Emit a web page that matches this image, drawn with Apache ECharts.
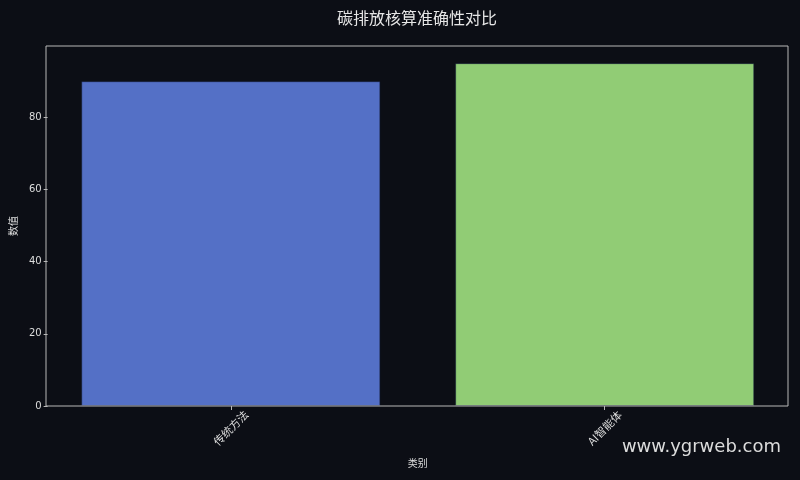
<!DOCTYPE html>
<html><head><meta charset="utf-8">
<script src="https://cdn.jsdelivr.net/npm/echarts@6/dist/echarts.min.js"></script>
<style>html,body{margin:0;padding:0;background:#0c0e15;}#c{width:800px;height:480px;}</style>
</head><body><div id="c"></div>
<script>
const categories = ['传统方法', 'AI智能体'];
const values = [90, 95];
const barColors = ['#5470c6', '#91cc75'];
const yTicks = [0, 20, 40, 60, 80];
const yMax = 99.75;

const cjk = '"Noto Sans CJK SC",sans-serif';
const font = '"DejaVu Sans","Noto Sans CJK SC",sans-serif';
const axisCol = '#b8b8b8';
const txtCol = '#dddddd';
const chart = echarts.init(document.getElementById('c'));
chart.setOption({
  backgroundColor: '#0c0e15',
  animation: false,
  grid: [
    { left: 42.25, right: 8.35, top: 46, bottom: 74, show: false },
    { left: 46, right: 12, top: 46, bottom: 74, show: true, borderColor: axisCol, borderWidth: 1, backgroundColor: 'transparent', z: 5 }
  ],
  xAxis: [{
    type: 'category', data: categories, gridIndex: 0,
    name: '类别', nameLocation: 'middle', nameGap: 52,
    nameTextStyle: { color: txtCol, fontSize: 10, fontFamily: cjk },
    axisLine: { show: false },
    axisTick: { show: true, alignWithLabel: true, length: 4, lineStyle: { color: axisCol } },
    axisLabel: { rotate: 45, align: 'center', verticalAlign: 'middle', color: txtCol, fontSize: 11, margin: 22, fontFamily: cjk },
    splitLine: { show: false }
  }, {
    type: 'value', gridIndex: 1, show: false
  }],
  yAxis: [{
    type: 'value', min: 0, max: yMax, gridIndex: 0, offset: -3.75,
    name: '数值', nameLocation: 'middle', nameGap: 26, nameRotate: 90,
    nameTextStyle: { color: txtCol, fontSize: 10, fontFamily: cjk },
    axisLine: { show: false },
    axisTick: { show: true, length: 4, lineStyle: { color: axisCol }, customValues: yTicks },
    axisLabel: { color: txtCol, fontSize: 10, margin: 6, fontFamily: font, customValues: yTicks },
    splitLine: { show: false }
  }, {
    type: 'value', gridIndex: 1, show: false
  }],
  series: [{
    type: 'bar', barWidth: '80%', xAxisIndex: 0, yAxisIndex: 0,
    data: values.map((v, i) => ({ value: v, itemStyle: { color: barColors[i], borderColor: 'rgba(20,30,60,0.5)', borderWidth: 1 } }))
  }],
  graphic: [{
    type: 'text', x: 417, y: 18,
    style: { text: '碳排放核算准确性对比', fill: '#e6e6e6', fontSize: 16, fontFamily: cjk, align: 'center', verticalAlign: 'middle' }
  }, {
    type: 'text', right: 19, top: 438,
    style: { text: 'www.ygrweb.com', fill: '#dcdcdc', fontSize: 18, fontFamily: '"DejaVu Sans","Noto Sans",sans-serif' }
  }]
});
</script></body></html>
